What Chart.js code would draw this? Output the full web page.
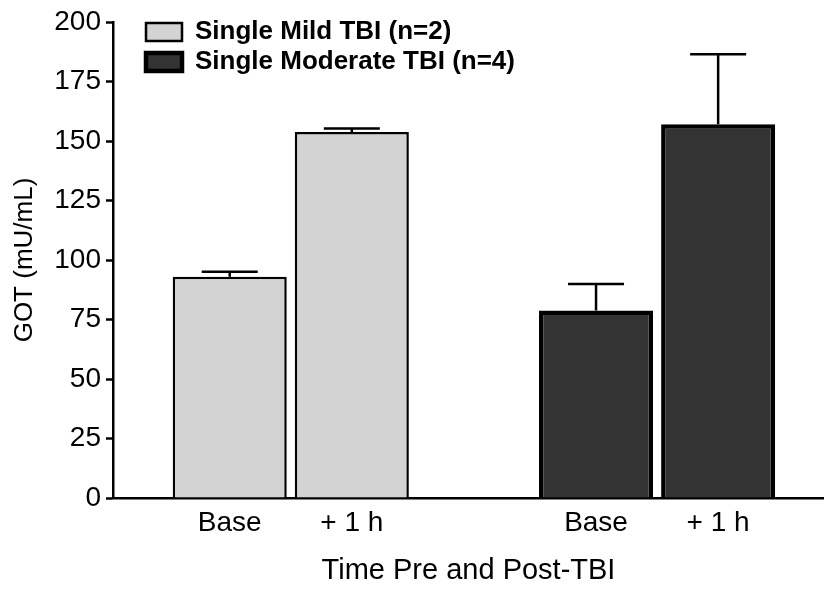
<!DOCTYPE html>
<html><head><meta charset="utf-8">
<script src="https://cdn.jsdelivr.net/npm/chart.js@4/dist/chart.umd.min.js"></script>
<style>html,body{margin:0;padding:0;background:#fff}</style>
</head><body>
<canvas id="c" width="824" height="593"></canvas>
<script>
// ---- data ----
const slotLabels = ['Base', '+ 1 h', '', 'Base', '+ 1 h'];
const groupNames = ['Single Mild TBI (n=2)', 'Single Moderate TBI (n=4)'];
const mildSlots = [0, 1];
const moderateSlots = [3, 4];
const mildMean = [93, 153.8];
const mildErr = [2.1, 1.4];
const moderateMean = [78.8, 157];
const moderateErr = [11.1, 29.5];
const yTitle = 'GOT (mU/mL)';
const xTitle = 'Time Pre and Post-TBI';

const FONT = "'Liberation Sans', Arial, sans-serif";
Chart.defaults.font.family = FONT;
Chart.defaults.color = '#000';

const toPoints = (slots, vals) => slots.map((s, i) => ({x: s + 1, y: vals[i]}));
const tickSlots = slotLabels.map((l, i) => l ? i + 1 : null).filter(v => v !== null);

const errorBars = {
  id: 'errorBars',
  afterDatasetsDraw(chart) {
    const ctx = chart.ctx, xs = chart.scales.x, ys = chart.scales.y;
    chart.data.datasets.forEach(ds => {
      ds.data.forEach((pt, i) => {
        const x = xs.getPixelForValue(pt.x);
        const y0 = ys.getPixelForValue(pt.y);
        const y1 = ys.getPixelForValue(pt.y + ds.errors[i]);
        ctx.save();
        ctx.strokeStyle = '#000';
        ctx.lineWidth = 2.5;
        ctx.beginPath();
        ctx.moveTo(x, y0); ctx.lineTo(x, y1);
        ctx.moveTo(x - 28, y1); ctx.lineTo(x + 28, y1);
        ctx.stroke();
        ctx.restore();
      });
    });
  }
};

// place the in-plot legend a little inside the top-left corner of the plot
const legendInset = {
  id: 'legendInset',
  afterLayout(chart) {
    const lg = chart.legend;
    if (!lg) return;
    lg.left = chart.chartArea.left + 29;
    lg.top = chart.chartArea.top - 7;
  }
};

new Chart(document.getElementById('c'), {
  type: 'bar',
  data: {
    datasets: [
      { label: groupNames[0], data: toPoints(mildSlots, mildMean), errors: mildErr,
        backgroundColor: '#d3d3d3', borderColor: '#000', borderWidth: 2.5 },
      { label: groupNames[1], data: toPoints(moderateSlots, moderateMean), errors: moderateErr,
        backgroundColor: '#333333', borderColor: '#000', borderWidth: 4.5 }
    ]
  },
  options: {
    responsive: false,
    animation: false,
    devicePixelRatio: 1,
    layout: { padding: { top: 22, right: 0, bottom: 0, left: 0 } },
    datasets: { bar: { grouped: false, barPercentage: 0.934, categoryPercentage: 1 } },
    plugins: {
      legend: {
        position: 'chartArea', align: 'start',
        labels: { font: { size: 26, weight: 'bold' }, color: '#000', boxWidth: 36, boxHeight: 18, padding: 4 }
      },
      tooltip: { enabled: false }
    },
    scales: {
      x: {
        type: 'linear', min: 0.044, max: 5.867, offset: false,
        afterBuildTicks: s => { s.ticks = tickSlots.map(v => ({value: v})); },
        ticks: { callback: v => slotLabels[v - 1] || '', font: { size: 28 }, color: '#000', padding: 8, autoSkip: false, maxRotation: 0 },
        grid: { drawOnChartArea: false, drawTicks: false },
        border: { color: '#000', width: 2.5 },
        title: { display: true, text: xTitle, font: { size: 29 }, color: '#000', padding: { top: 0, bottom: 5 } },
        afterFit: s => { s.height = 95; }
      },
      y: {
        min: 0, max: 200,
        ticks: { stepSize: 25, font: { size: 28 }, color: '#000', padding: 5 },
        grid: { drawOnChartArea: false, drawTicks: true, tickLength: 7, tickWidth: 2.5, tickColor: '#000' },
        border: { color: '#000', width: 2.5 },
        title: { display: true, text: yTitle, font: { size: 26 }, color: '#000', padding: { top: 9, bottom: 0 } },
        afterFit: s => { s.width = 113; }
      }
    }
  },
  plugins: [errorBars, legendInset]
});
</script>
</body></html>
